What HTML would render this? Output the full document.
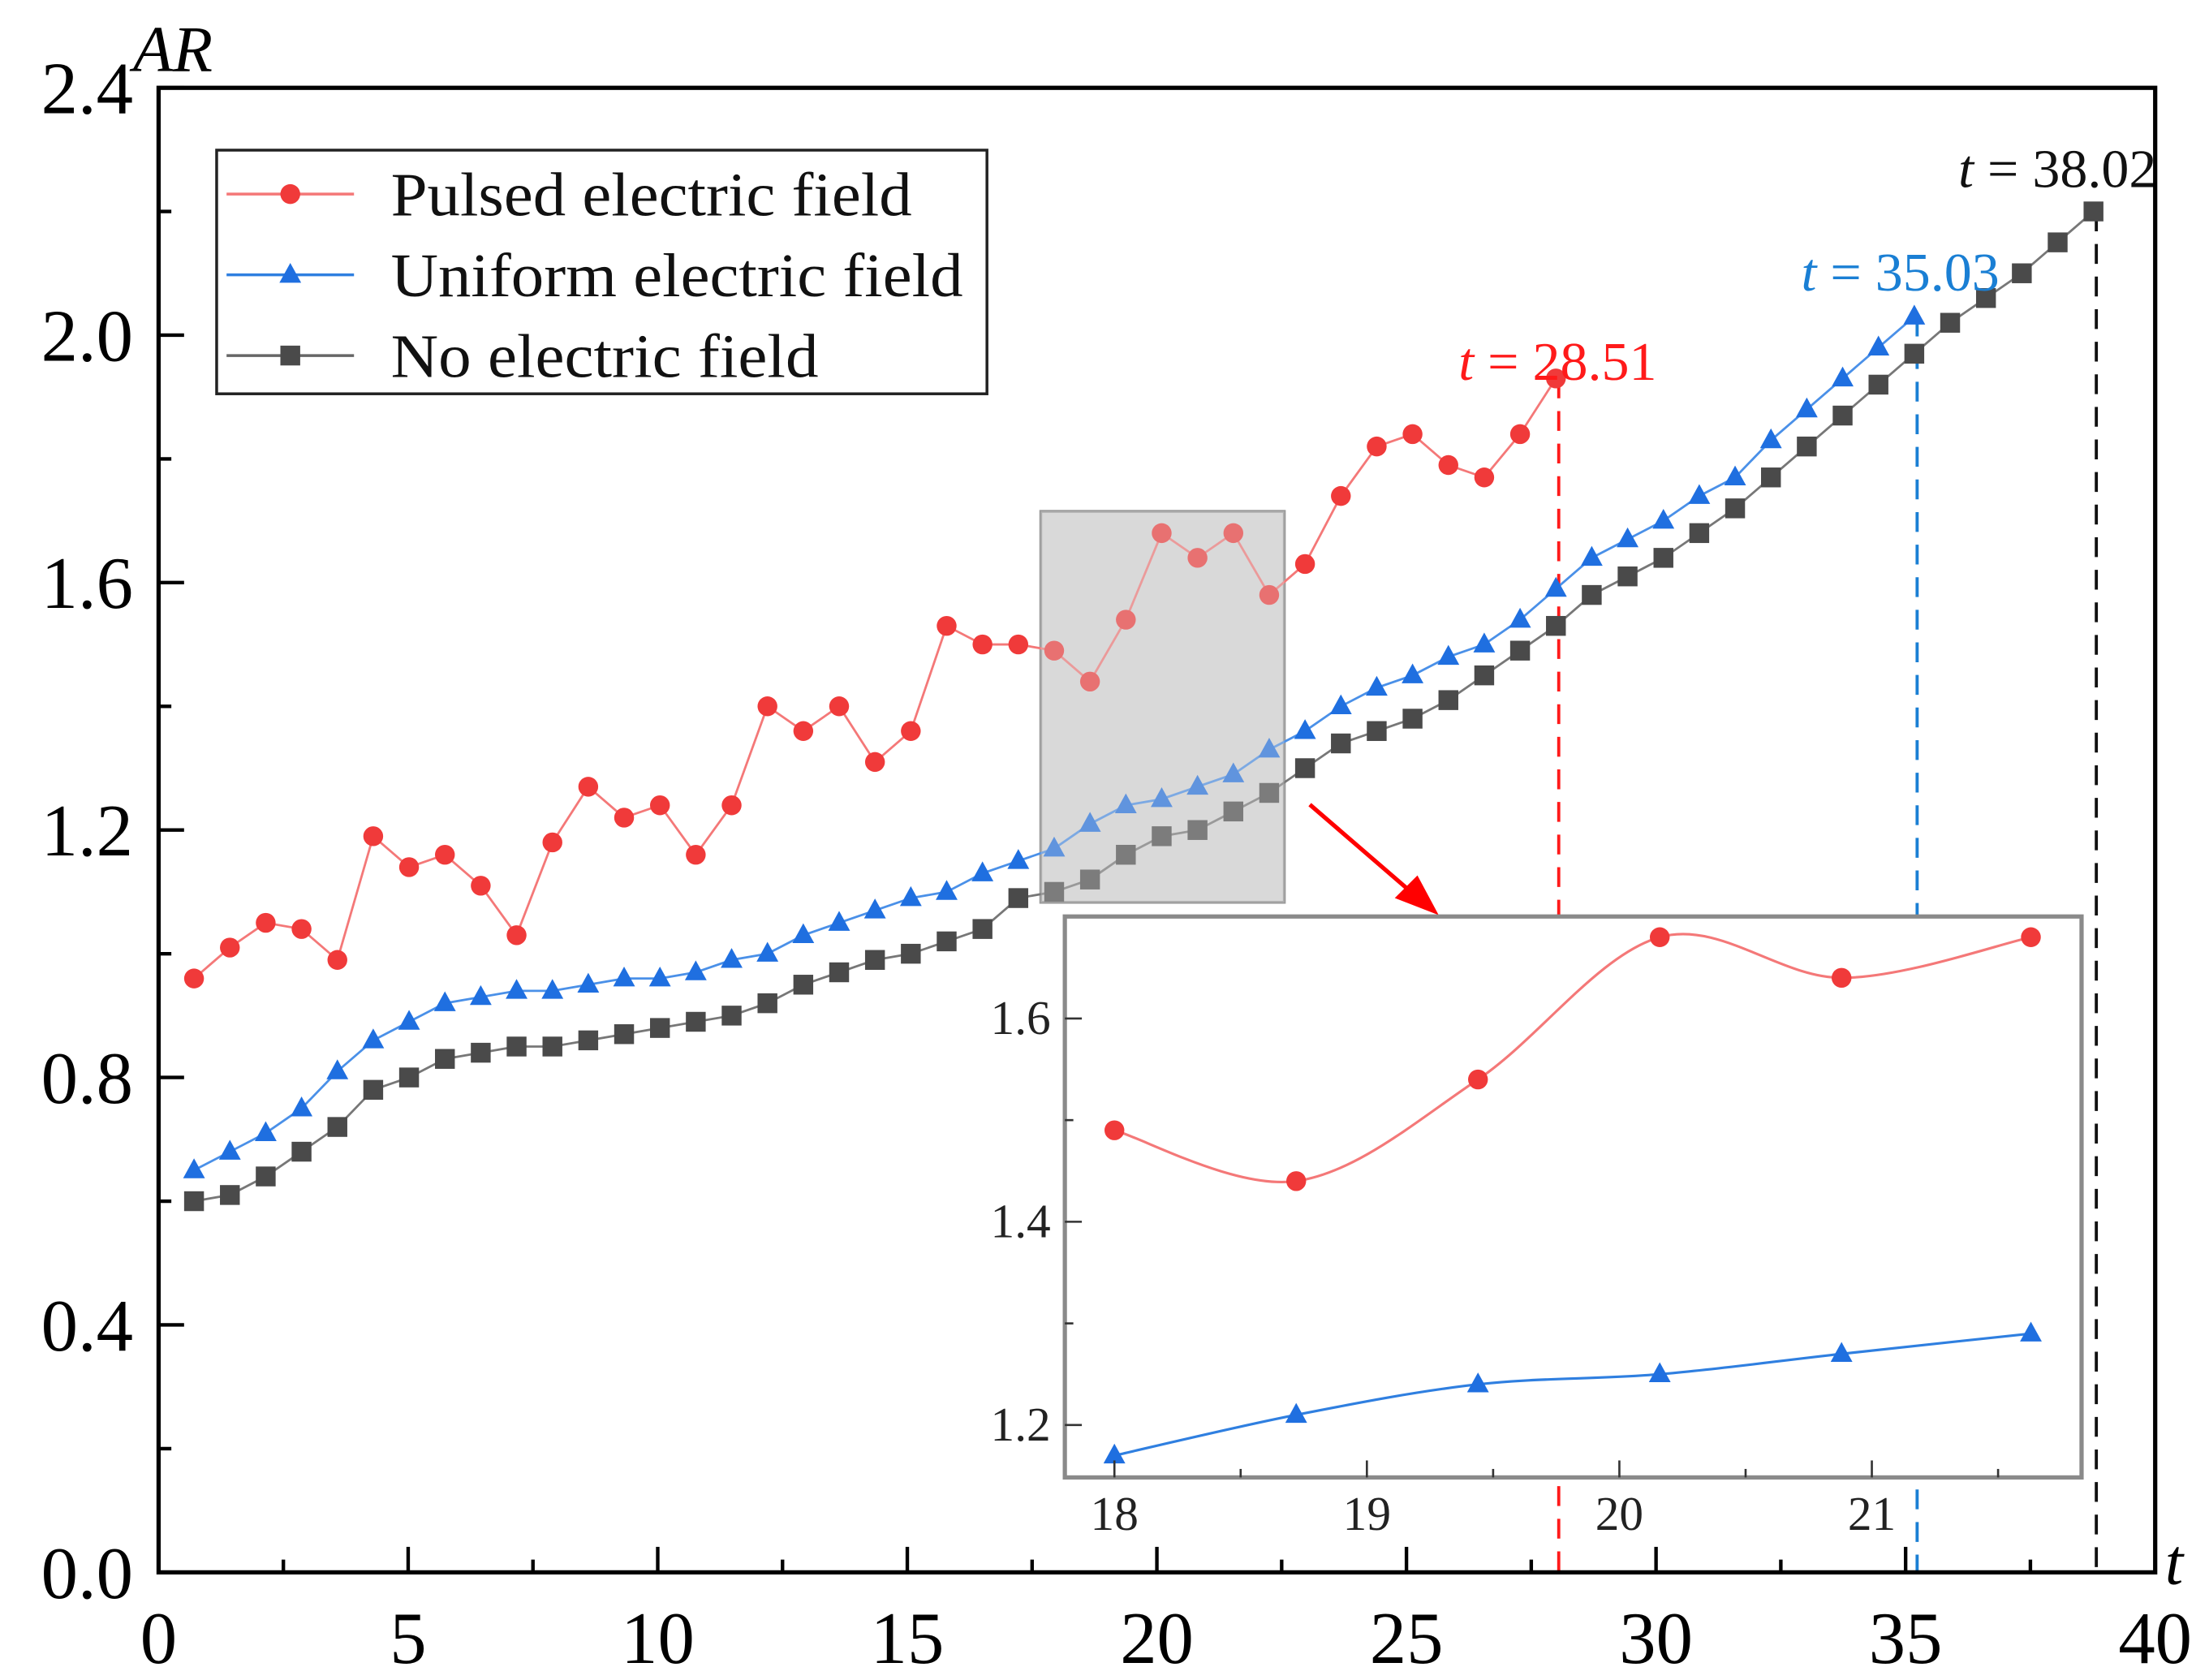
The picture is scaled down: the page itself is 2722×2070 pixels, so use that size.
<!DOCTYPE html>
<html><head><meta charset="utf-8"><style>
html,body{margin:0;padding:0;background:#fff;}
svg{display:block;}
text{font-family:"Liberation Serif",serif;}
</style></head><body>
<svg id="chart" width="2722" height="2070" viewBox="0 0 1560 1186" preserveAspectRatio="none" xmlns="http://www.w3.org/2000/svg">
<g id="main"></g>
</svg>
<script>
const pulsedAR=[0.96,1.01,1.05,1.04,0.99,1.19,1.14,1.16,1.11,1.03,1.18,1.27,1.22,1.24,1.16,1.24,1.40,1.36,1.40,1.31,1.36,1.53,1.50,1.50,1.49,1.44,1.54,1.68,1.64,1.68,1.58,1.63,1.74,1.82,1.84,1.79,1.77,1.84,1.93];
const uniformAR=[0.65,0.68,0.71,0.75,0.81,0.86,0.89,0.92,0.93,0.94,0.94,0.95,0.96,0.96,0.97,0.99,1.00,1.03,1.05,1.07,1.09,1.10,1.13,1.15,1.17,1.21,1.24,1.25,1.27,1.29,1.33,1.36,1.40,1.43,1.45,1.48,1.50,1.54,1.59,1.64,1.67,1.70,1.74,1.77,1.83,1.88,1.93,1.98,2.03];
const noFieldAR=[0.60,0.61,0.64,0.68,0.72,0.78,0.80,0.83,0.84,0.85,0.85,0.86,0.87,0.88,0.89,0.90,0.92,0.95,0.97,0.99,1.00,1.02,1.04,1.09,1.10,1.12,1.16,1.19,1.20,1.23,1.26,1.30,1.34,1.36,1.38,1.41,1.45,1.49,1.53,1.58,1.61,1.64,1.68,1.72,1.77,1.82,1.87,1.92,1.97,2.02,2.06,2.10,2.15,2.20];
const tStart=0.71, tStep=0.718;
const xTicks=[0,5,10,15,20,25,30,35,40];
const yTicks=[0.0,0.4,0.8,1.2,1.6,2.0,2.4];
const yTickLabels=["0.0","0.4","0.8","1.2","1.6","2.0","2.4"];
const insetT=[18,18.72,19.44,20.16,20.88,21.63];
const insetPulsed=[1.49,1.44,1.54,1.68,1.64,1.68];
const insetUniform=[1.17,1.21,1.24,1.25,1.27,1.29];
const insetXTicks=[18,19,20,21];
const insetYTicks=[1.2,1.4,1.6];
const markers=[{t:28.51,label:"28.51",color:"#ff1a1a"},{t:35.03,label:"35.03",color:"#1a7fd4"},{t:38.02,label:"38.02",color:"#111"}];

const NS="http://www.w3.org/2000/svg";
const g=document.getElementById('main');
function el(tag,attrs,parent,txt){const e=document.createElementNS(NS,tag);for(const k in attrs)e.setAttribute(k,attrs[k]);if(txt!==undefined)e.textContent=txt;(parent||g).appendChild(e);return e;}
const X=t=>112+t*35.25;
const Y=v=>1110-v*436.7;
const tOf=i=>tStart+i*tStep;
const IX=t=>787+(t-18)*178.3;
const IY=v=>1006-(v-1.2)*717.5;

let e=el('rect',{x:735,y:361,width:172,height:276,fill:'#d9d9d9',stroke:'#999','stroke-width':2});



const lastIdx=[pulsedAR.length-1,uniformAR.length-1,noFieldAR.length-1];
const lastVal=[pulsedAR[lastIdx[0]],uniformAR[lastIdx[1]],noFieldAR[lastIdx[2]]];
const dashNames=['pulsed-end-line','uniform-end-line','no-field-end-line'];
markers.forEach((m,k)=>{
  const x=X(tOf(lastIdx[k]))+2;
  const l=el('line',{x1:x,x2:x,y1:Y(lastVal[k]),y2:1110,stroke:m.color,'stroke-width':2.2,'stroke-dasharray':'14,9'});
  
  
});

function series(vals,color,lineColor,shape,name){
  const pts=vals.map((v,i)=>X(tOf(i))+','+Y(v)).join(' ');
  const pl=el('polyline',{points:pts,fill:'none',stroke:lineColor,'stroke-width':1.6});
  
  
  vals.forEach((v,i)=>{const m=marker(X(tOf(i)),Y(v),shape,color,7);
    
    });
}
function marker(x,y,shape,color,s,parent){
  if(shape==='circle')return el('circle',{cx:x,cy:y,r:s,fill:color},parent);
  if(shape==='tri')return el('polygon',{points:`${x},${y-s*1.2} ${x-s*1.1},${y+s*0.8} ${x+s*1.1},${y+s*0.8}`,fill:color},parent);
  return el('rect',{x:x-s,y:y-s,width:2*s,height:2*s,fill:color},parent);
}
series(noFieldAR,'#4a4a4a','#777','sq','no-field');
series(uniformAR,'#1f6fe0','#4a90e8','tri','uniform');
series(pulsedAR,'#f03a3a','#f47878','circle','pulsed');

e=el('rect',{x:735,y:361,width:172,height:276,fill:'rgba(217,217,217,0.35)',stroke:'none'});



const lblPos=[[1030,268],[1272,205],[1383,132]];
markers.forEach((m,k)=>{
  const t=el('text',{x:lblPos[k][0],y:lblPos[k][1],'font-size':38,fill:m.color,textLength:140,lengthAdjust:'spacingAndGlyphs'});
  
  
  el('tspan',{'font-style':'italic'},t,'t');
  el('tspan',{},t,' = '+m.label);
});

e=el('line',{x1:925,y1:568,x2:1005,y2:637,stroke:'#ff0000','stroke-width':3});


e=el('polygon',{points:'1016,646 985,634 1001,618',fill:'#ff0000'});



const ig=el('g',{});


el('rect',{x:752,y:647,width:718,height:396,fill:'#fff',stroke:'#8a8a8a','stroke-width':3},ig);
function spline(xs,ys){let d=`M${xs[0]},${ys[0]}`;for(let i=0;i<xs.length-1;i++){const x0=xs[Math.max(0,i-1)],y0=ys[Math.max(0,i-1)],x3=xs[Math.min(xs.length-1,i+2)],y3=ys[Math.min(xs.length-1,i+2)];
 const c1x=xs[i]+(xs[i+1]-x0)/6,c1y=ys[i]+(ys[i+1]-y0)/6,c2x=xs[i+1]-(x3-xs[i])/6,c2y=ys[i+1]-(y3-ys[i])/6;d+=` C${c1x},${c1y} ${c2x},${c2y} ${xs[i+1]},${ys[i+1]}`;}return d;}
const ixs=insetT.map(IX);
e=el('path',{d:spline(ixs,insetPulsed.map(IY)),fill:'none',stroke:'#f47878','stroke-width':1.8},ig);


e=el('path',{d:spline(ixs,insetUniform.map(IY)),fill:'none',stroke:'#2f7fe0','stroke-width':1.8},ig);


insetT.forEach((t,i)=>{
  let m=marker(IX(t),IY(insetPulsed[i]),'circle','#f03a3a',7,ig);
  
  
  m=marker(IX(t),IY(insetUniform[i]),'tri','#1f6fe0',7,ig);
  
  
});
insetXTicks.forEach(t=>{
  el('line',{x1:IX(t),x2:IX(t),y1:1043,y2:1031,stroke:'#333','stroke-width':1.5},ig);
  el('line',{x1:IX(t+0.5),x2:IX(t+0.5),y1:1043,y2:1037,stroke:'#333','stroke-width':1.5},ig);
  const tl=el('text',{x:IX(t),y:1080,'font-size':34,'text-anchor':'middle',fill:'#222'},ig,String(t));
  
  
});
insetYTicks.forEach(v=>{
  el('line',{x1:752,x2:764,y1:IY(v),y2:IY(v),stroke:'#333','stroke-width':1.5},ig);
  if(v<1.6)el('line',{x1:752,x2:758,y1:IY(v+0.1),y2:IY(v+0.1),stroke:'#333','stroke-width':1.5},ig);
  const tl=el('text',{x:742,y:IY(v)+11,'font-size':34,'text-anchor':'end',fill:'#222'},ig,v.toFixed(1));
  
  
});

e=el('rect',{x:112,y:62,width:1410,height:1048,fill:'none',stroke:'#000','stroke-width':3});


xTicks.forEach((t,i)=>{
  el('line',{x1:X(t),x2:X(t),y1:1110,y2:1092,stroke:'#000','stroke-width':2.5});
  if(t<40)el('line',{x1:X(t+2.5),x2:X(t+2.5),y1:1110,y2:1101,stroke:'#000','stroke-width':2.5});
  const tl=el('text',{x:X(t),y:1174,'font-size':52,'text-anchor':'middle',fill:'#000'},g,String(t));
  
  
});
yTicks.forEach((v,i)=>{
  el('line',{x1:112,x2:130,y1:Y(v),y2:Y(v),stroke:'#000','stroke-width':2.5});
  if(v<2.4)el('line',{x1:112,x2:121,y1:Y(v+0.2),y2:Y(v+0.2),stroke:'#000','stroke-width':2.5});
  const tl=el('text',{x:94,y:Y(v)+18,'font-size':52,'text-anchor':'end',fill:'#000'},g,yTickLabels[i]);
  
  
});
e=el('text',{x:94,y:50,'font-size':46,'font-style':'italic',fill:'#000'},g,'AR');


e=el('text',{x:1529,y:1118,'font-size':46,'font-style':'italic',fill:'#000'},g,'t');



const lg=el('g',{});


el('rect',{x:153,y:106,width:544,height:172,fill:'#fff',stroke:'#222','stroke-width':2},lg);
const legendItems=[['Pulsed electric field','#f03a3a','#f47878','circle',368],['Uniform electric field','#1f6fe0','#2f7fe0','tri',404],['No electric field','#4a4a4a','#666','sq',302]];
legendItems.forEach((it,i)=>{
  const y=137+i*57;
  const eg=el('g',{},lg);
  
  
  el('line',{x1:160,x2:250,y1:y,y2:y,stroke:it[2],'stroke-width':2},eg);
  marker(205,y,it[3],it[1],7,eg);
  el('text',{x:276,y:y+15,'font-size':44,fill:'#111',textLength:it[4],lengthAdjust:'spacingAndGlyphs'},eg,it[0]);
});
</script>
</body></html>
